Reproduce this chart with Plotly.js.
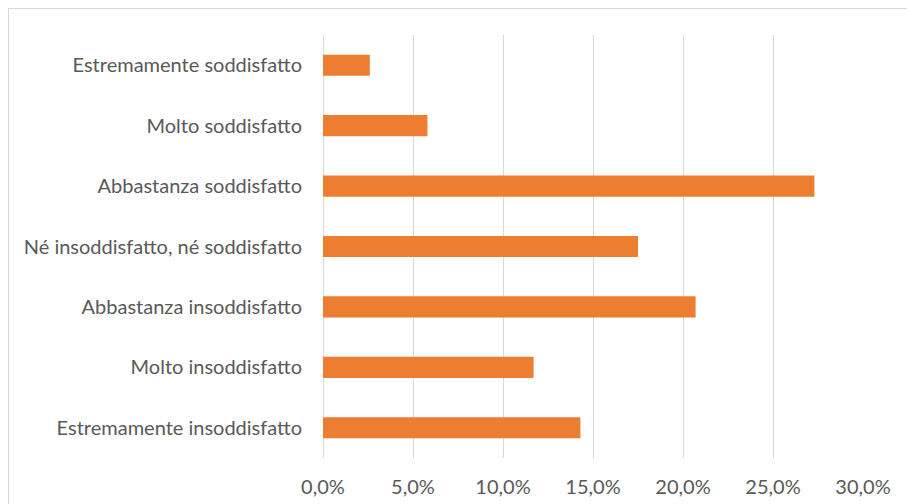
<!DOCTYPE html>
<html>
<head>
<meta charset="utf-8">
<script src="https://cdn.plot.ly/plotly-3.0.1.min.js"></script>
<style>
  html, body { margin: 0; padding: 0; background: #fff; }
  #wrap { position: relative; width: 907px; height: 504px; overflow: hidden; }
  #chart { width: 907px; height: 504px; }
  #frame { position: absolute; left: 8px; top: 8px; width: 910px; height: 510px; border: 1px solid #D9D9D9; pointer-events: none; }
</style>
</head>
<body>
<div id="wrap">
  <div id="chart"></div>
  <div id="frame"></div>
</div>
<script>
const categories = [
  "Estremamente soddisfatto",
  "Molto soddisfatto",
  "Abbastanza soddisfatto",
  "Né insoddisfatto, né soddisfatto",
  "Abbastanza insoddisfatto",
  "Molto insoddisfatto",
  "Estremamente insoddisfatto"
];
const percentValues = [2.6, 5.8, 27.3, 17.5, 20.7, 11.7, 14.3];
const xTickValues = [0, 5, 10, 15, 20, 25, 30];
const xTickLabels = xTickValues.map(v => v.toFixed(1).replace(".", ",") + "%");

const trace = {
  type: "bar",
  orientation: "h",
  y: categories,
  x: percentValues,
  width: 0.35,
  marker: { color: "#ED7D31" },
  hoverinfo: "skip"
};

const layout = {
  width: 907,
  height: 504,
  margin: { l: 323, r: 44, t: 35, b: 46 },
  paper_bgcolor: "#ffffff",
  plot_bgcolor: "#ffffff",
  showlegend: false,
  font: { family: "Lato, 'Open Sans', sans-serif", size: 20, color: "#595959" },
  xaxis: {
    range: [0, 30],
    tickmode: "array",
    tickvals: xTickValues,
    ticktext: xTickLabels,
    showgrid: true,
    gridcolor: "#D9D9D9",
    gridwidth: 1,
    zeroline: true,
    zerolinecolor: "#D9D9D9",
    zerolinewidth: 1,
    showline: false,
    ticks: "",
    ticklabelstandoff: 15,
    tickfont: { size: 20, color: "#595959" },
    fixedrange: true
  },
  yaxis: {
    autorange: "reversed",
    showgrid: false,
    zeroline: false,
    showline: false,
    ticks: "",
    ticklabelstandoff: 20,
    tickfont: { size: 20, color: "#595959" },
    fixedrange: true
  }
};

Plotly.newPlot("chart", [trace], layout, { displayModeBar: false, staticPlot: true });
</script>
</body>
</html>
